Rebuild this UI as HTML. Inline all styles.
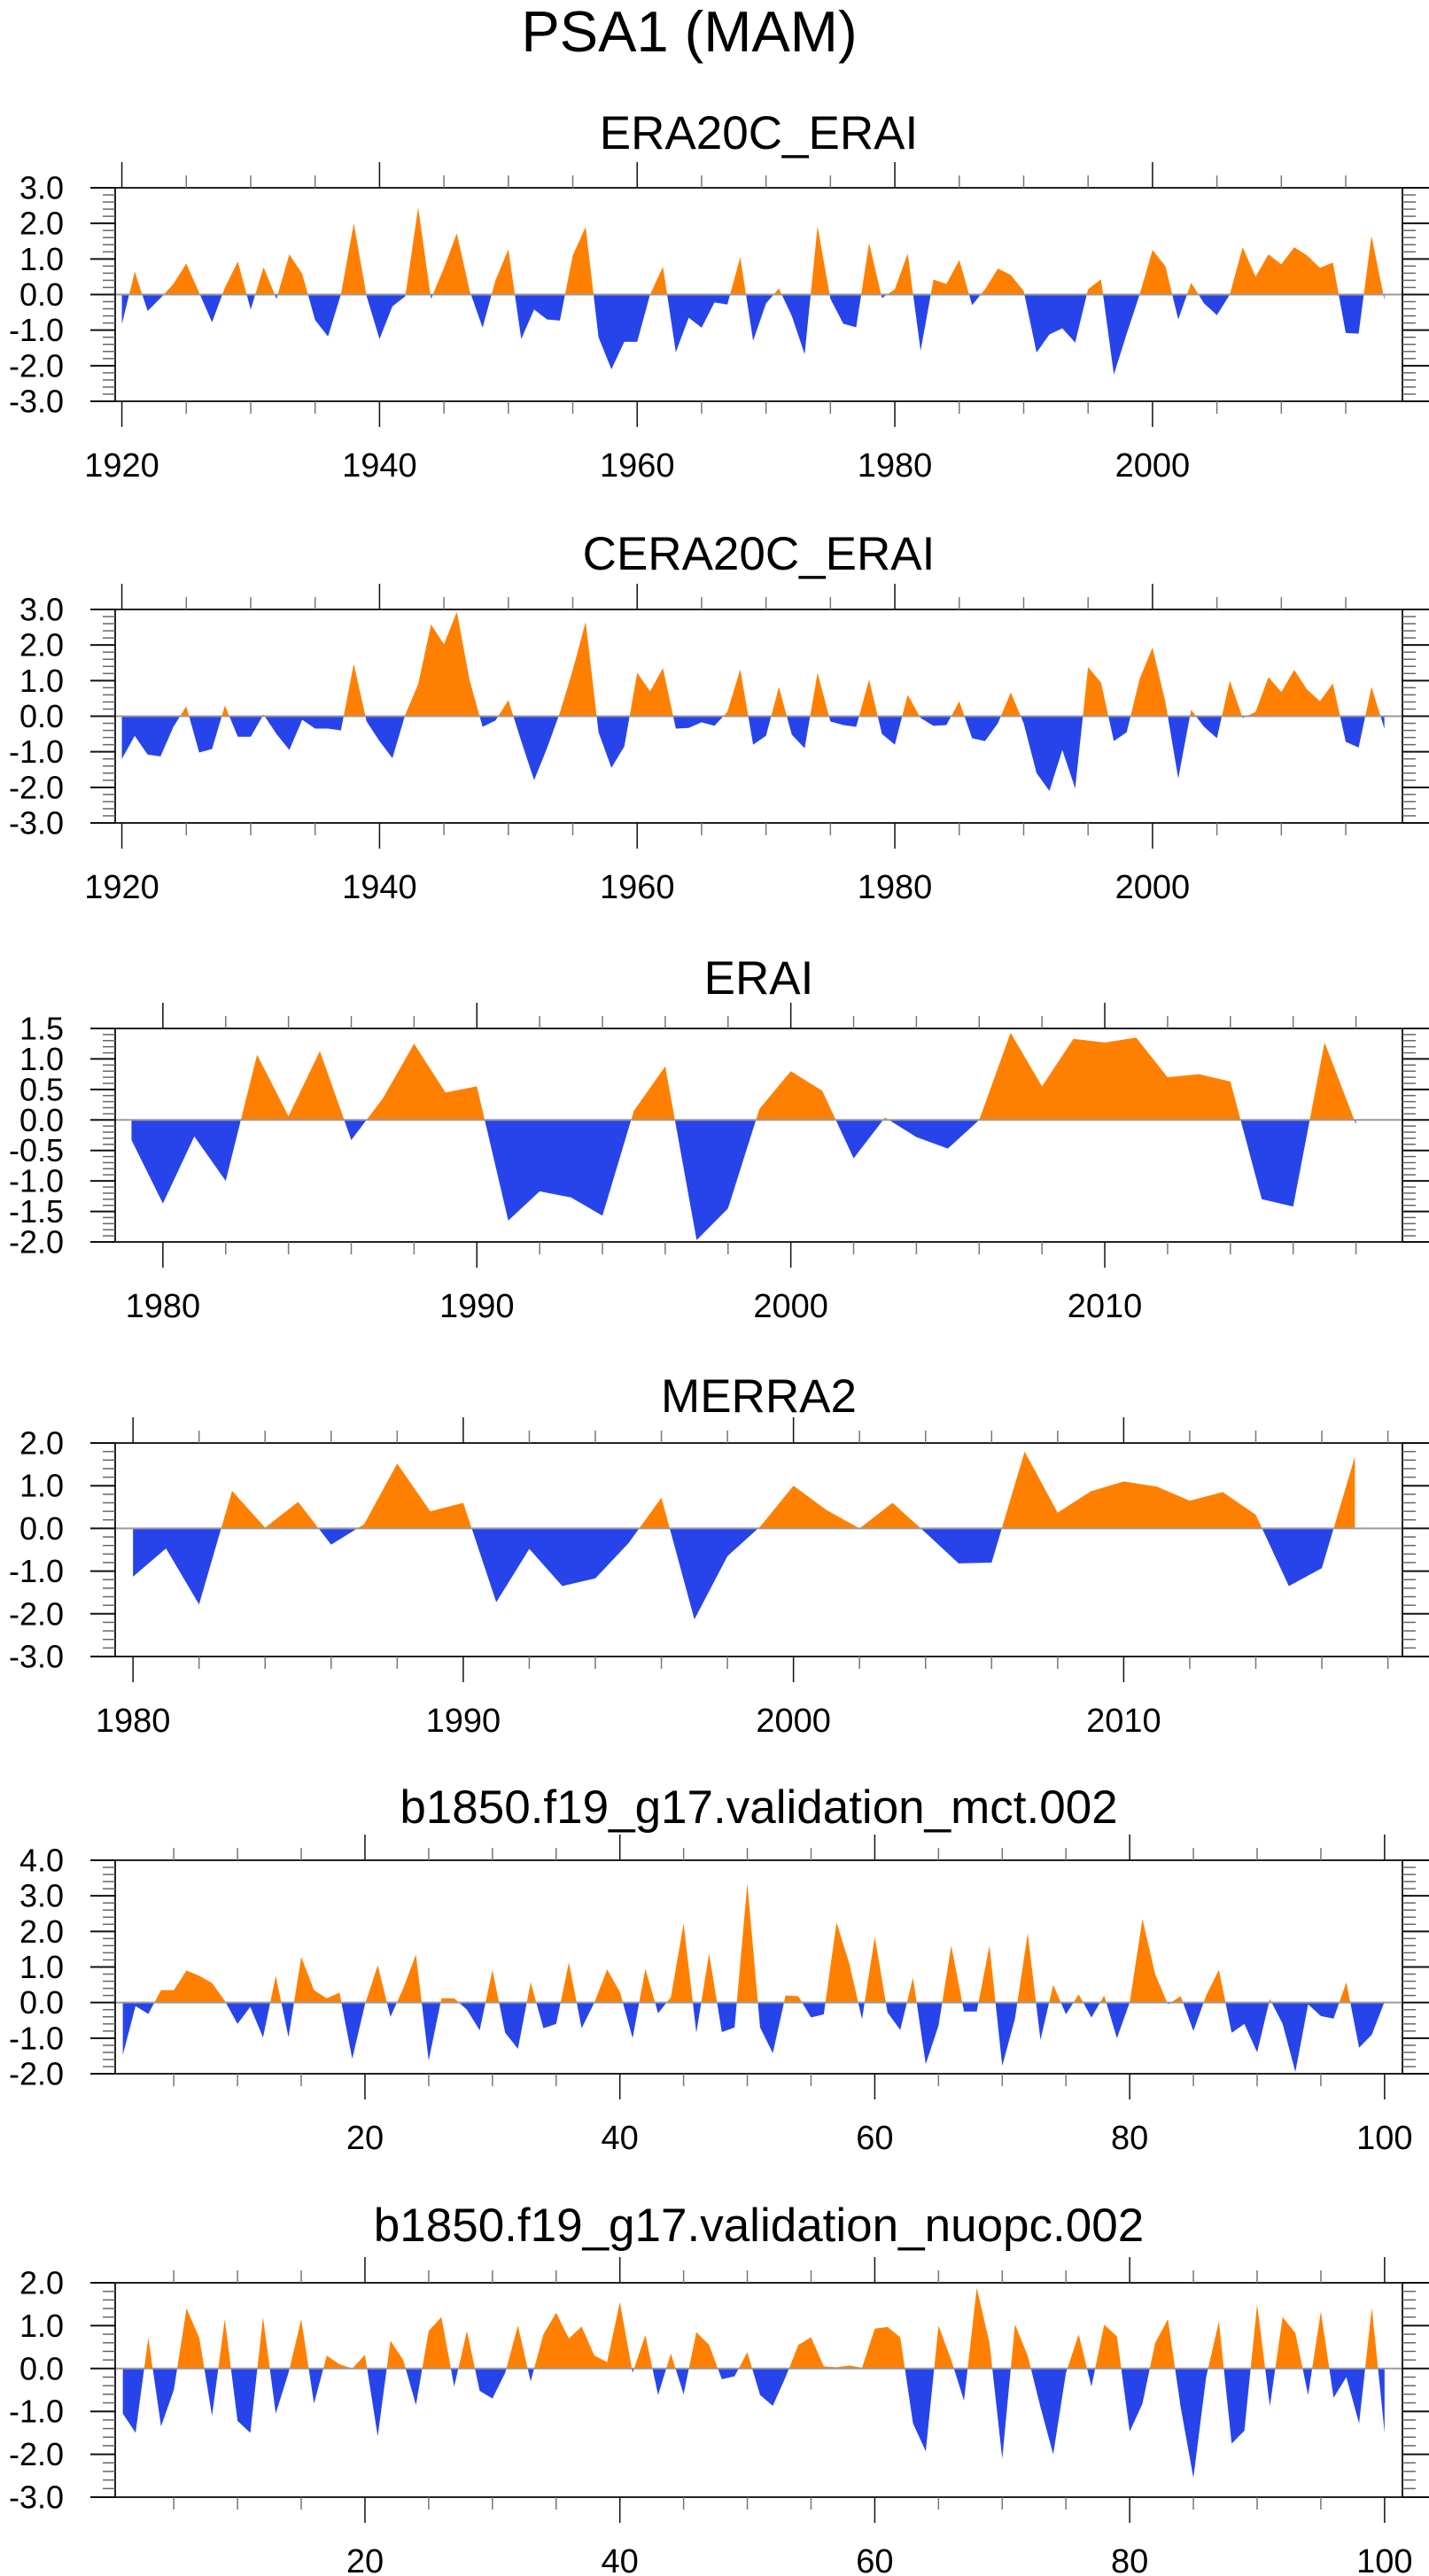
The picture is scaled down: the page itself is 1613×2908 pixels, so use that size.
<!DOCTYPE html>
<html><head><meta charset="utf-8"><title>PSA1 (MAM)</title>
<style>
html,body{margin:0;padding:0;background:#fff;}
svg{display:block;font-family:"Liberation Sans",Arial,sans-serif;}
</style></head>
<body>
<svg id="fig" width="1613" height="2908" viewBox="0 0 1613 2908" xmlns="http://www.w3.org/2000/svg">
<rect x="0" y="0" width="1613" height="2908" fill="#fff"/>
<text x="778" y="58" font-size="65" text-anchor="middle" fill="#000">PSA1 (MAM)</text>
</svg>
<script>
// ---- data ----
const era20cYears = Array.from({length:99},(_,i)=>1920+i);
const era20cValues = [-0.83,0.64,-0.46,-0.1,0.3,0.87,0.05,-0.78,0.2,0.93,-0.42,0.77,-0.12,1.13,0.58,-0.72,-1.18,0.0,2.0,-0.05,-1.25,-0.33,-0.05,2.45,-0.12,0.75,1.72,0.1,-0.93,0.4,1.27,-1.25,-0.42,-0.7,-0.73,1.1,1.9,-1.2,-2.1,-1.33,-1.33,0.0,0.78,-1.62,-0.65,-0.93,-0.22,-0.28,1.05,-1.3,-0.25,0.17,-0.6,-1.68,1.92,-0.12,-0.82,-0.92,1.45,-0.1,0.15,1.15,-1.58,0.42,0.3,0.97,-0.3,0.15,0.73,0.55,0.1,-1.63,-1.12,-0.95,-1.35,0.15,0.43,-2.25,-1.1,0.0,1.25,0.8,-0.7,0.33,-0.25,-0.58,0.0,1.33,0.5,1.13,0.85,1.33,1.1,0.75,0.9,-1.08,-1.1,1.65,-0.15];
const cera20cYears = Array.from({length:99},(_,i)=>1920+i);
const cera20cValues = [-1.2,-0.55,-1.08,-1.13,-0.3,0.28,-1.02,-0.92,0.3,-0.58,-0.58,0.05,-0.5,-0.95,-0.1,-0.35,-0.35,-0.4,1.47,-0.15,-0.7,-1.18,0.05,0.9,2.58,2.02,2.93,1.0,-0.3,-0.12,0.45,-0.7,-1.8,-0.9,0.1,1.3,2.65,-0.45,-1.45,-0.85,1.22,0.7,1.35,-0.35,-0.33,-0.17,-0.27,0.12,1.32,-0.8,-0.55,0.82,-0.52,-0.9,1.22,-0.15,-0.25,-0.3,1.03,-0.5,-0.8,0.6,-0.05,-0.27,-0.25,0.42,-0.62,-0.7,-0.2,0.67,-0.2,-1.6,-2.1,-0.95,-2.03,1.38,0.95,-0.7,-0.45,1.05,1.93,0.4,-1.75,0.18,-0.3,-0.62,1.0,-0.05,0.12,1.1,0.68,1.3,0.75,0.42,0.92,-0.72,-0.88,0.82,-0.35];
const eraiYears = Array.from({length:40},(_,i)=>1979+i);
const eraiValues = [-0.33,-1.37,-0.27,-1.0,1.07,0.06,1.13,-0.33,0.35,1.25,0.45,0.55,-1.65,-1.17,-1.27,-1.57,0.15,0.88,-1.97,-1.45,0.18,0.8,0.48,-0.63,0.04,-0.28,-0.47,0.0,1.43,0.55,1.33,1.27,1.35,0.7,0.75,0.63,-1.3,-1.42,1.27,-0.07];
const merraYears = Array.from({length:38},(_,i)=>1980+i);
const merraValues = [-1.13,-0.47,-1.78,0.88,0.02,0.62,-0.38,0.1,1.52,0.4,0.6,-1.73,-0.48,-1.35,-1.17,-0.35,0.72,-2.13,-0.65,0.05,1.0,0.43,0.0,0.6,-0.1,-0.82,-0.8,1.8,0.37,0.87,1.1,0.98,0.65,0.85,0.32,-1.35,-0.93,1.68];
const mctYears = Array.from({length:100},(_,i)=>1+i);
const mctValues = [-1.47,-0.1,-0.32,0.35,0.35,0.9,0.75,0.55,0.05,-0.6,-0.12,-0.98,0.75,-0.97,1.28,0.35,0.12,0.28,-1.58,-0.05,1.05,-0.4,0.4,1.35,-1.63,0.12,0.12,-0.2,-0.78,0.92,-0.85,-1.3,0.57,-0.72,-0.6,1.13,-0.72,0.0,0.93,0.3,-1.0,0.95,-0.3,0.15,2.22,-0.85,1.38,-0.83,-0.7,3.35,-0.7,-1.42,0.2,0.18,-0.42,-0.33,2.25,1.1,-0.47,1.85,-0.28,-0.77,0.7,-1.73,-0.65,1.6,-0.25,-0.25,1.6,-1.78,-0.45,1.95,-1.05,0.5,-0.33,0.23,-0.42,0.2,-1.0,0.0,2.35,0.8,-0.05,0.18,-0.8,0.2,0.92,-0.85,-0.6,-1.4,0.1,-0.6,-1.95,-0.05,-0.38,-0.45,0.57,-1.27,-0.9,0.03];
const nuopcYears = Array.from({length:100},(_,i)=>1+i);
const nuopcValues = [-1.05,-1.5,0.72,-1.35,-0.5,1.4,0.72,-1.1,1.15,-1.22,-1.5,1.2,-1.05,-0.1,1.15,-0.82,0.3,0.1,0.0,0.32,-1.58,0.65,0.2,-0.85,0.88,1.2,-0.42,0.88,-0.52,-0.7,-0.1,1.0,-0.3,0.8,1.3,0.7,0.98,0.3,0.15,1.55,-0.1,0.78,-0.62,0.35,-0.6,0.85,0.55,-0.25,-0.18,0.38,-0.62,-0.87,-0.2,0.55,0.73,0.05,0.03,0.07,0.02,0.93,0.97,0.73,-1.28,-1.93,1.0,0.2,-0.75,1.88,0.6,-2.1,1.03,0.3,-0.9,-2.0,-0.1,0.8,-0.42,1.02,0.75,-1.47,-0.82,0.6,1.15,-0.9,-2.55,-0.2,1.1,-1.75,-1.45,1.5,-0.88,1.2,0.83,-0.62,1.33,-0.68,-0.2,-1.28,1.42,-1.5];
const yearTicks20 = [1920,1940,1960,1980,2000];
const yearTicks10a = [1980,1990,2000,2010];
const runTicks = [20,40,60,80,100];

const NS="http://www.w3.org/2000/svg";
const svg=document.getElementById('fig');
function mk(tag,attrs,parent){const e=document.createElementNS(NS,tag);for(const k in attrs)e.setAttribute(k,attrs[k]);(parent||svg).appendChild(e);return e;}

const L=130,R=1583;
const panels=[
 {name:'era20c-erai',title:'ERA20C_ERAI',xs:era20cYears,ys:era20cValues,top:212,bot:453,tb:168,xd:[1919.48,2019.4],yd:[-3,3],ymaj:1,ymin:0.2,dec:1,xmaj:yearTicks20,xminStep:5,xminStart:1920},
 {name:'cera20c-erai',title:'CERA20C_ERAI',xs:cera20cYears,ys:cera20cValues,top:688,bot:929,tb:643,xd:[1919.48,2019.4],yd:[-3,3],ymaj:1,ymin:0.2,dec:1,xmaj:yearTicks20,xminStep:5,xminStart:1920},
 {name:'erai',title:'ERAI',xs:eraiYears,ys:eraiValues,top:1161,bot:1402,tb:1122,xd:[1978.48,2019.48],yd:[-2,1.5],ymaj:0.5,ymin:0.1,dec:1,xmaj:yearTicks10a,xminStep:2,xminStart:1980},
 {name:'merra2',title:'MERRA2',xs:merraYears,ys:merraValues,top:1629,bot:1870,tb:1594,xd:[1979.46,2018.44],yd:[-3,2],ymaj:1,ymin:0.2,dec:1,xmaj:yearTicks10a,xminStep:2,xminStart:1980},
 {name:'mct',title:'b1850.f19_g17.validation_mct.002',xs:mctYears,ys:mctValues,top:2100,bot:2341,tb:2058,xd:[0.4,101.4],yd:[-2,4],ymaj:1,ymin:0.2,dec:1,xmaj:runTicks,xminStep:5,xminStart:5},
 {name:'nuopc',title:'b1850.f19_g17.validation_nuopc.002',xs:nuopcYears,ys:nuopcValues,top:2577,bot:2819,tb:2530,xd:[0.4,101.4],yd:[-3,2],ymaj:1,ymin:0.2,dec:1,xmaj:runTicks,xminStep:5,xminStart:5}
];

panels.forEach((p,pi)=>{
  const g=mk('g',{});
  
  
  const xs=v=>L+(v-p.xd[0])/(p.xd[1]-p.xd[0])*(R-L);
  const ys=v=>p.bot-(v-p.yd[0])/(p.yd[1]-p.yd[0])*(p.bot-p.top);
  const t=mk('text',{x:(L+R)/2,y:p.tb,'font-size':53,'text-anchor':'middle',fill:'#000'},g);
  t.textContent=p.title;
  
  
  // area
  const y0=ys(0);
  let d='M'+xs(p.xs[0])+','+y0;
  p.xs.forEach((x,i)=>{d+=' L'+xs(x).toFixed(2)+','+ys(p.ys[i]).toFixed(2);});
  d+=' L'+xs(p.xs[p.xs.length-1])+','+y0+' Z';
  const cidA='ca'+pi, cidB='cb'+pi;
  const defs=mk('defs',{},g);
  const c1=mk('clipPath',{id:cidA},defs);mk('rect',{x:L,y:p.top,width:R-L,height:y0-p.top},c1);
  const c2=mk('clipPath',{id:cidB},defs);mk('rect',{x:L,y:y0,width:R-L,height:p.bot-y0},c2);
  const pos=mk('path',{d:d,fill:'#ff8000','clip-path':'url(#'+cidA+')'},g);
  
  
  const neg=mk('path',{d:d,fill:'#2744eb','clip-path':'url(#'+cidB+')'},g);
  
  
  const zl=mk('line',{x1:L,x2:R,y1:y0,y2:y0,stroke:'#9a9a9a','stroke-width':2},g);
  
  
  // frame
  const fr=mk('rect',{x:L,y:p.top,width:R-L,height:p.bot-p.top,fill:'none',stroke:'#222','stroke-width':2},g);
  
  
  // y ticks
  const n=Math.round((p.yd[1]-p.yd[0])/p.ymin);
  for(let k=0;k<=n;k++){
    const v=p.yd[0]+k*p.ymin; const y=ys(v);
    const isMaj=Math.abs(v/p.ymaj-Math.round(v/p.ymaj))<1e-6;
    const len=isMaj?28:14;
    mk('line',{x1:L-len,x2:L,y1:y,y2:y,stroke:isMaj?'#111':'#666','stroke-width':isMaj?2:1.5},g);
    mk('line',{x1:R,x2:R+(isMaj?30:15),y1:y,y2:y,stroke:isMaj?'#111':'#666','stroke-width':isMaj?2:1.5},g);
    if(isMaj){
      const lb=mk('text',{x:72,y:y+12.5,'font-size':36,'text-anchor':'end',fill:'#000'},g);
      lb.textContent=(Math.abs(v)<1e-9?0:v).toFixed(p.dec);
      
      
    }
  }
  // x ticks
  for(let v=p.xminStart; v<=p.xd[1]; v+=p.xminStep){
    if(v<p.xd[0]) continue;
    const x=xs(v); const isMaj=p.xmaj.includes(v); const len=isMaj?29:14;
    mk('line',{x1:x,x2:x,y1:p.top-len,y2:p.top,stroke:isMaj?'#111':'#777','stroke-width':1.5},g);
    mk('line',{x1:x,x2:x,y1:p.bot,y2:p.bot+len,stroke:isMaj?'#111':'#777','stroke-width':1.5},g);
  }
  p.xmaj.forEach(v=>{
    const lb=mk('text',{x:xs(v),y:p.bot+85,'font-size':38,'text-anchor':'middle',fill:'#000'},g);
    lb.textContent=String(v);
    
    
  });
});
</script>
</body></html>
